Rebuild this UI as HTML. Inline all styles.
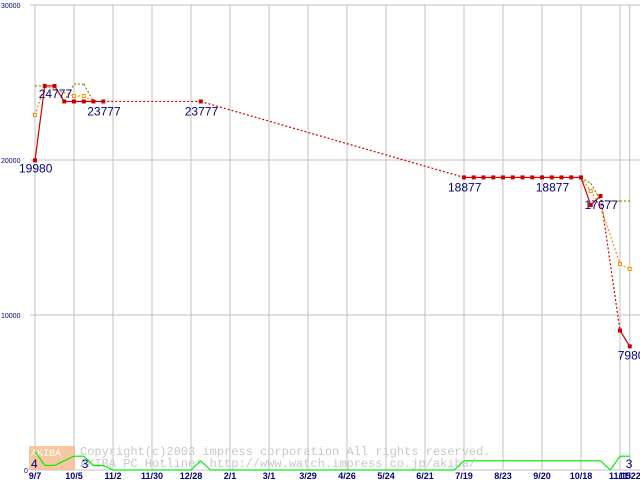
<!DOCTYPE html>
<html><head><meta charset="utf-8"><style>
body{margin:0;background:#fff}
svg{display:block;font-family:"Liberation Sans",sans-serif}
</style></head><body>
<svg id="c" width="640" height="480">
<g id="grid"></g>
<g id="wm">
<rect x="29" y="446" width="46" height="24" fill="#f4b98a" opacity="0.8"/>
<text x="31" y="456" font-size="10" fill="#fff" font-family="Liberation Mono,monospace">AKIBA</text>
<text x="80" y="455" font-size="12" fill="#c8c8c8" font-family="Liberation Mono,monospace">Copyright(c)2003 impress corporation All rights reserved.</text>
<text x="80" y="467" font-size="12" fill="#c8c8c8" font-family="Liberation Mono,monospace">AKIBA PC Hotline! http://www.watch.impress.co.jp/akiba/</text>
</g>
<g id="series"></g>
</svg>
<script>
const xLabels=["9/7","10/5","11/2","11/30","12/28","2/1","3/1","3/29","4/26","5/24","6/21","7/19","8/23","9/20","10/18","11/15","11/22"];
const xLabelIdx=[0,4,8,12,16,20,24,28,32,36,40,44,48,52,56,60,61];
const yTicks=[0,10000,20000,30000];
const minIdx=[0,1,2,3,4,5,6,7,17,44,45,46,47,48,49,50,51,52,53,54,55,56,57,58,60,61];
const minVal=[19980,24777,24777,23777,23777,23777,23777,23777,23777,18877,18877,18877,18877,18877,18877,18877,18877,18877,18877,18877,18877,18877,17100,17677,9000,7980];
const avgIdx=[0,1,4,5,6,56,57,58,60,61];
const avgVal=[22900,24777,24130,24130,23777,18877,18000,17000,13290,12970];
const maxIdx=[0,1,2,3,4,5,6,56,57,58,59,60,61];
const maxVal=[24777,24777,24777,23777,24900,24900,23777,18877,18500,17400,17350,17350,17350];
const shopIdx=Array.from({length:62},(_,i)=>i);
const shopVal=[4,1,1,2,3,3,1,1,0,0,0,0,0,0,0,0,0,2,0,0,0,0,0,0,0,0,0,0,0,0,0,0,0,0,0,0,0,0,0,0,0,0,0,0,2,2,2,2,2,2,2,2,2,2,2,2,2,2,2,0,3,3];
const labels=[[0,19980,-16,12],[1,24777,-6,12],[7,23777,-16,14],[17,23777,-16,14],[44,18877,-16,14],[53,18877,-16,14],[58,17677,-16,13],[61,7980,-12,13]];
const NS="http://www.w3.org/2000/svg";
const X=i=>35+i*9.75, Y=v=>470-v*0.0155, YS=v=>470-v*4.6;
function el(t,a,p){const e=document.createElementNS(NS,t);for(const k in a)e.setAttribute(k,a[k]);p.appendChild(e);return e;}
const g=document.getElementById('grid'), s=document.getElementById('series');
xLabelIdx.forEach((ix,k)=>{
 const l=el('line',{x1:X(ix),x2:X(ix),y1:5,y2:470,stroke:'#c0c0c0'},g);
 
 
 const t=el('text',{x:X(ix),y:479,'font-size':9,fill:'#000080','text-anchor':'middle','font-weight':'bold'},g);
 t.textContent=xLabels[k];
 
 
});
yTicks.forEach(v=>{
 const l=el('line',{x1:30,x2:640,y1:Y(v),y2:Y(v),stroke:'#c0c0c0'},g);
 
 
 const t=el('text',{x:v?1:24,y:Y(v)+3,'font-size':7,fill:'#000080'},g);
 t.textContent=v;
 
 
});
function series(idx,val,color,fy,name,skipGap,marker,allDash){
 for(let k=1;k<idx.length;k++){
  const gap=idx[k]-idx[k-1]>1;
  if(gap&&skipGap&&idx[k]-idx[k-1]>3)continue;
  const l=el('line',{x1:X(idx[k-1]),y1:fy(val[k-1]),x2:X(idx[k]),y2:fy(val[k]),stroke:color,'stroke-width':1.2},s);
  if(gap||allDash)l.setAttribute('stroke-dasharray','2,2');
  
  
 }
 if(marker)idx.forEach((ix,k)=>{
  if(marker==='hollow'&&![0,4,5,57,60,61].includes(ix))return;
  const r=el('rect',{x:X(ix)-1.5,y:fy(val[k])-1.5,width:3,height:3,fill:marker==='hollow'?'#fff':color,stroke:color},s);
  
  
 });
}
series(shopIdx,shopVal,'#00ee00',YS,'shop-count',false,null,false);
series(maxIdx,maxVal,'#808000',Y,'max-price',true,null,true);
series(avgIdx,avgVal,'#ff8c00',Y,'avg-price',true,'hollow',true);
series(minIdx,minVal,'#cc0000',Y,'min-price',false,'fill',false);
labels.forEach(([ix,v,dx,dy])=>{
 const t=el('text',{x:X(ix)+dx,y:Y(v)+dy,'font-size':12,fill:'#000080'},s);
 t.textContent=v;
 
 
});
[[0,4,-4],[5,3,-2],[61,3,-4]].forEach(([ix,v,dx])=>{
 const t=el('text',{x:X(ix)+dx,y:468,'font-size':12,fill:'#000080'},s);
 t.textContent=v;
 
 
});
</script>
</body></html>
